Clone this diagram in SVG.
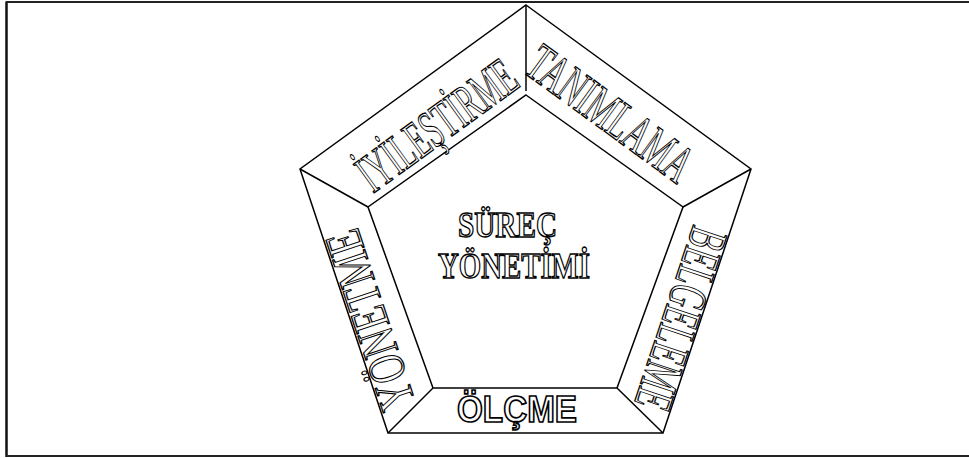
<svg xmlns="http://www.w3.org/2000/svg" width="969" height="458" viewBox="0 0 969 458">
<style>
.ln{fill:none;stroke:#000;stroke-width:1.5;stroke-linejoin:miter}
.ser{font-family:"Liberation Serif","Times New Roman",serif;fill:#fff;stroke:#000;stroke-width:1.3}
.serb{font-family:"Liberation Serif","Times New Roman",serif;font-weight:bold;fill:#fff;stroke:#000;stroke-width:1.4}
.sans{font-family:"Liberation Sans",Arial,sans-serif;font-weight:bold;fill:#fff;stroke:#000;stroke-width:1.7}
</style>
<rect width="969" height="458" fill="#fff"/>
<g id="frame">
<line x1="6.5" y1="1.5" x2="6.5" y2="457" stroke="#111" stroke-width="2.5"/>
<line x1="6" y1="2" x2="969" y2="2" stroke="#222" stroke-width="2"/>
<line x1="6" y1="456" x2="969" y2="456" stroke="#222" stroke-width="2"/>
</g>
<g id="connectors">
<polygon class="ln" points="526,5 751,169 663,433 388,433 300,169"/>
<polygon class="ln" points="526,95 683,207 617,388 433,388 368,207"/>
<line class="ln" x1="526" y1="5" x2="526" y2="91"/>
<line class="ln" x1="751" y1="169" x2="683" y2="207"/>
<line class="ln" x1="663" y1="433" x2="617" y2="388"/>
<line class="ln" x1="388" y1="433" x2="433" y2="388"/>
<line class="ln" x1="300" y1="169" x2="368" y2="207"/>
</g>
<g id="center">
<text class="serb" x="458" y="237" font-size="35" textLength="99" lengthAdjust="spacingAndGlyphs">SÜREÇ</text>
<text class="serb" x="438" y="278" font-size="35" textLength="152" lengthAdjust="spacingAndGlyphs">YÖNETİMİ</text>
</g>
<g id="tanimlama" transform="translate(526,5) rotate(36.08)">
<text class="ser" x="36" y="56" font-size="54" textLength="192" lengthAdjust="spacingAndGlyphs">TANIMLAMA</text>
</g>
<g id="iyilestirme" transform="translate(300,169) rotate(-36.08)">
<text class="ser" x="44.5" y="63" font-size="54" textLength="184" lengthAdjust="spacingAndGlyphs">İYİLEŞTİRME</text>
</g>
<g id="belgeleme" transform="translate(751,169) rotate(108.43)">
<text class="ser" x="70" y="37" font-size="54" textLength="189" lengthAdjust="spacingAndGlyphs">BELGELEME</text>
</g>
<g id="yonetme" transform="translate(388,433) rotate(-108.43)">
<text class="ser" x="20" y="36" font-size="52" textLength="186" lengthAdjust="spacingAndGlyphs">YÖNETME</text>
</g>
<g id="olcme">
<text class="sans" x="457" y="422" font-size="36" textLength="120" lengthAdjust="spacingAndGlyphs">ÖLÇME</text>
</g>
</svg>
